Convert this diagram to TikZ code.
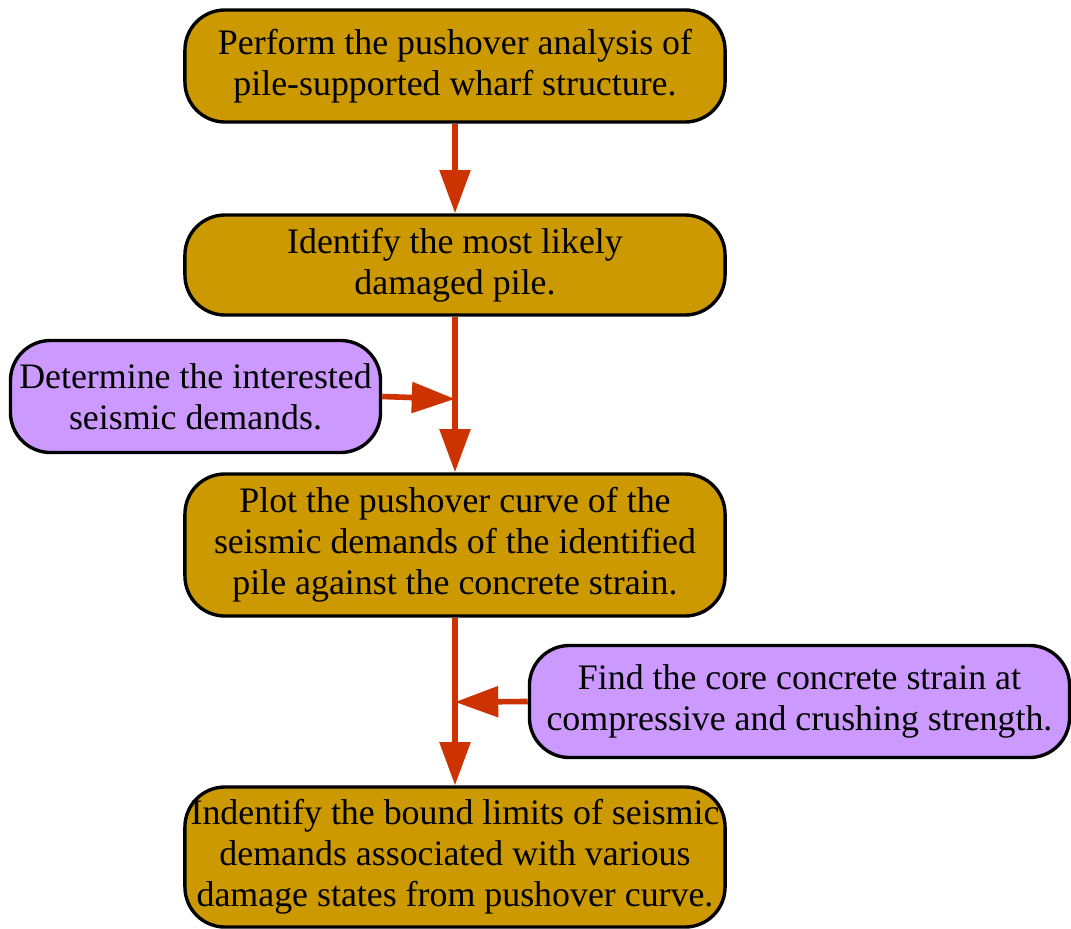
\documentclass[tikz,border=0pt]{standalone}
\usepackage{fontspec}
\setmainfont{Liberation Serif}
\usetikzlibrary{arrows.meta}

\definecolor{stepgold}{HTML}{CC9900}
\definecolor{inputlilac}{HTML}{CC99FF}
\definecolor{flowred}{HTML}{CC3300}

\tikzset{
    stepbox/.style={draw, line width=2.4pt, fill=stepgold, rounded corners=1cm,
        align=center, inner sep=0pt, minimum width=13.5cm,
        font=\fontsize{25.5}{29}\selectfont},
    inputbox/.style={stepbox, fill=inputlilac},
    flow/.style={draw=flowred, line width=4pt,
        -{Triangle[length=1.08cm, width=0.75cm]}}
}

\begin{document}
\begin{tikzpicture}[x=0.025cm, y=-0.025cm]
        \useasboundingbox (0, 0) rectangle (1071, 928);

        \node [stepbox, minimum height=2.8cm] (S1) at (455, 66) {Perform the pushover analysis of\\pile-supported wharf structure.};
        \node [stepbox, minimum height=2.5cm] (S2) at (455, 265) {Identify the most likely\\damaged pile.};
        \node [inputbox, minimum width=9.25cm, minimum height=2.8cm] (I1) at (195.5, 396.5) {Determine the interested\\seismic demands.};
        \node [stepbox, minimum height=3.55cm] (S3) at (455, 545) {Plot the pushover curve of the\\seismic demands of the identified\\pile against the concrete strain.};
        \node [inputbox, minimum width=13.5cm, minimum height=2.8cm] (I2) at (799.5, 701.5) {Find the core concrete strain at\\compressive and crushing strength.};
        \node [stepbox, minimum height=3.5cm] (S4) at (455, 857) {Indentify the bound limits of seismic\\demands associated with various\\damage states from pushover curve.};

        \coordinate (J1) at (455, 399);
        \coordinate (J2) at (455, 702);

        \draw [flow] (S1) -- (S2);
        \draw [flow] (S2) -- (S3);
        \draw [flow] (I1.east) -- (J1);
        \draw [flow] (S3) -- (S4);
        \draw [flow] (I2.west) -- (J2);
\end{tikzpicture}
\end{document}
